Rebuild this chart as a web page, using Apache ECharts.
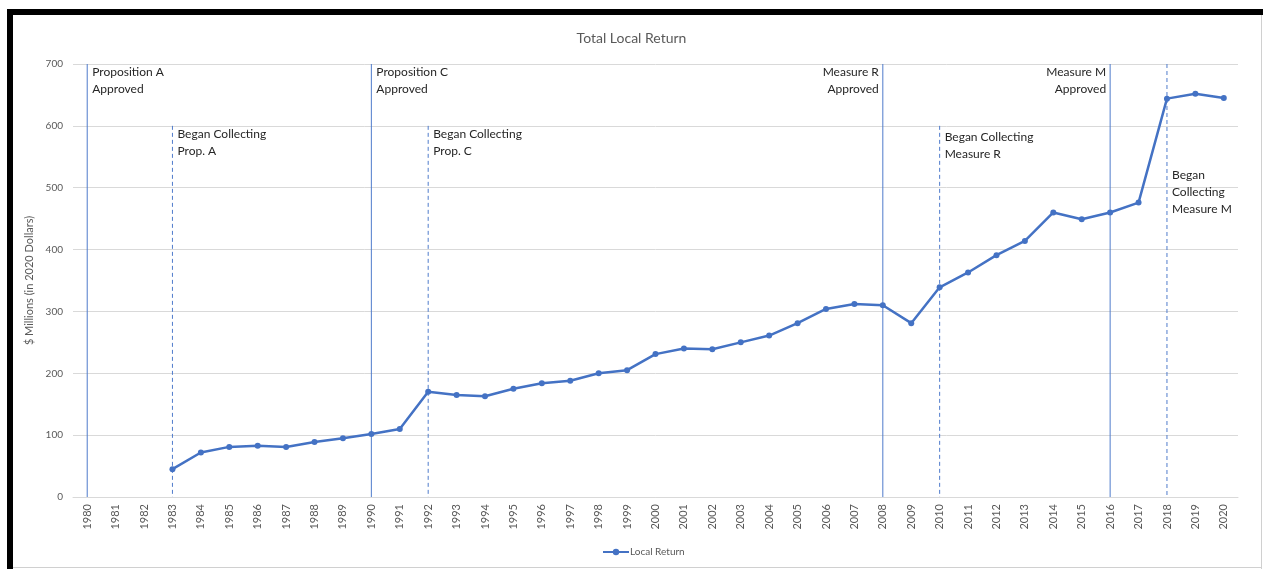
<!DOCTYPE html>
<html>
<head>
<meta charset="utf-8">
<script src="https://cdn.jsdelivr.net/npm/echarts@6/dist/echarts.min.js"></script>
<style>
  html, body { margin: 0; padding: 0; background: #fff; }
  #wrap { position: relative; width: 1263px; height: 569px; overflow: hidden; }
  #chart { position: absolute; left: 0; top: 0; width: 1263px; height: 569px; }
  .bar { position: absolute; background: #000; }
  .edge { position: absolute; background: #d0d0d0; }
</style>
</head>
<body>
<div id="wrap">
  <div id="chart"></div>
  <div class="bar" style="left:7px;top:9px;width:1256px;height:6px;"></div>
  <div class="bar" style="left:7px;top:9px;width:6px;height:560px;"></div>
  <div class="edge" style="left:1261px;top:15px;width:1px;height:554px;"></div>
  <div class="edge" style="left:13px;top:567px;width:1249px;height:1px;"></div>
</div>
<script>
// ---- data ----
const years = ['1980','1981','1982','1983','1984','1985','1986','1987','1988','1989',
  '1990','1991','1992','1993','1994','1995','1996','1997','1998','1999',
  '2000','2001','2002','2003','2004','2005','2006','2007','2008','2009',
  '2010','2011','2012','2013','2014','2015','2016','2017','2018','2019','2020'];
const localReturn = [null, null, null, 45, 72, 81, 83, 81, 89, 95,
  102, 110, 170, 165, 163, 175, 184, 188, 200, 205,
  231, 240, 239, 250, 261, 281, 304, 312, 310, 281,
  339, 363, 391, 414, 460, 449, 460, 476, 644, 652, 645];
const seriesName = 'Local Return';
const yTicks = [0, 700, 100]; // min, max, interval

// approval (solid) and collection-start (dashed) markers: [year, top value]
const approvalLines = [['1980', 700], ['1990', 700], ['2008', 700], ['2016', 700]];
const collectLines = [['1983', 600], ['1992', 600], ['2010', 600], ['2018', 700]];

// annotations: [year, value, text, side]
const notes = [
  ['1980', 700, 'Proposition A\nApproved', 'right'],
  ['1983', 600, 'Began Collecting\nProp. A', 'right'],
  ['1990', 700, 'Proposition C\nApproved', 'right'],
  ['1992', 600, 'Began Collecting\nProp. C', 'right'],
  ['2008', 700, 'Measure R\nApproved', 'left'],
  ['2010', 596, 'Began Collecting\nMeasure R', 'right'],
  ['2016', 700, 'Measure M\nApproved', 'left'],
  ['2018', 534, 'Began\nCollecting\nMeasure M', 'right']
];

const BLUE = '#4472C4';
const REF = '#4f7bcb';
const FONT = 'Lato, "Liberation Sans", sans-serif';

const idx = y => years.indexOf(y);

function refSeries(list, type) {
  return list.map(([y, top]) => ({
    type: 'line',
    silent: true,
    symbol: 'none',
    z: 2,
    data: [[idx(y), top], [idx(y), 0]],
    lineStyle: { color: REF, width: 1, type: type },
    emphasis: { disabled: true },
    tooltip: { show: false }
  }));
}

const markPointData = notes.map(([y, v, text, side]) => {
  const isLeft = side === 'left';
  return {
    coord: [idx(y), v],
    symbol: 'circle',
    symbolSize: 0,
    itemStyle: { color: 'rgba(255,255,255,0)', borderWidth: 0 },
    label: {
      show: true,
      formatter: text,
      position: isLeft ? [-4, 0] : [5, 0],
      align: isLeft ? 'right' : 'left',
      verticalAlign: 'top',
      color: '#262626',
      textBorderWidth: 0,
      fontSize: 12,
      lineHeight: 17,
      fontFamily: FONT
    }
  };
});

const chart = echarts.init(document.getElementById('chart'), null, { renderer: 'canvas' });
chart.setOption({
  animation: false,
  backgroundColor: 'transparent',
  title: {
    text: 'Total Local Return',
    left: 'center',
    top: 26,
    textStyle: { color: '#595959', fontSize: 14, fontWeight: 'normal', fontFamily: FONT }
  },
  legend: {
    data: [seriesName],
    left: 597,
    top: 542,
    itemWidth: 26,
    itemHeight: 8,
    itemGap: 2,
    textStyle: { color: '#595959', fontSize: 10, fontFamily: FONT, padding: [0, 0, 0, -4] }
  },
  grid: { left: 73, right: 25, top: 64, bottom: 72, containLabel: false },
  xAxis: {
    type: 'category',
    data: years,
    boundaryGap: true,
    axisLine: { show: true, lineStyle: { color: '#d9d9d9', width: 1 } },
    axisTick: { show: false },
    axisLabel: { rotate: 90, color: '#595959', fontSize: 11, margin: 7, fontFamily: FONT, interval: 0 },
    splitLine: { show: false }
  },
  yAxis: {
    type: 'value',
    min: yTicks[0],
    max: yTicks[1],
    interval: yTicks[2],
    name: '$ Millions (in 2020 Dollars)',
    nameLocation: 'middle',
    nameRotate: 90,
    nameGap: 33,
    nameTextStyle: { color: '#595959', fontSize: 11, fontFamily: FONT },
    axisLine: { show: false },
    axisTick: { show: false },
    axisLabel: { color: '#595959', fontSize: 10, margin: 10, fontFamily: FONT },
    splitLine: { lineStyle: { color: '#d9d9d9', width: 1 } }
  },
  series: [{
    name: seriesName,
    type: 'line',
    data: localReturn,
    connectNulls: false,
    symbol: 'circle',
    symbolSize: 6,
    itemStyle: { color: BLUE },
    lineStyle: { color: BLUE, width: 2.5 },
    z: 5,
    markPoint: {
      silent: true,
      animation: false,
      data: markPointData
    }
  }].concat(refSeries(approvalLines, 'solid'), refSeries(collectLines, [4, 3]))
});
</script>
</body>
</html>
